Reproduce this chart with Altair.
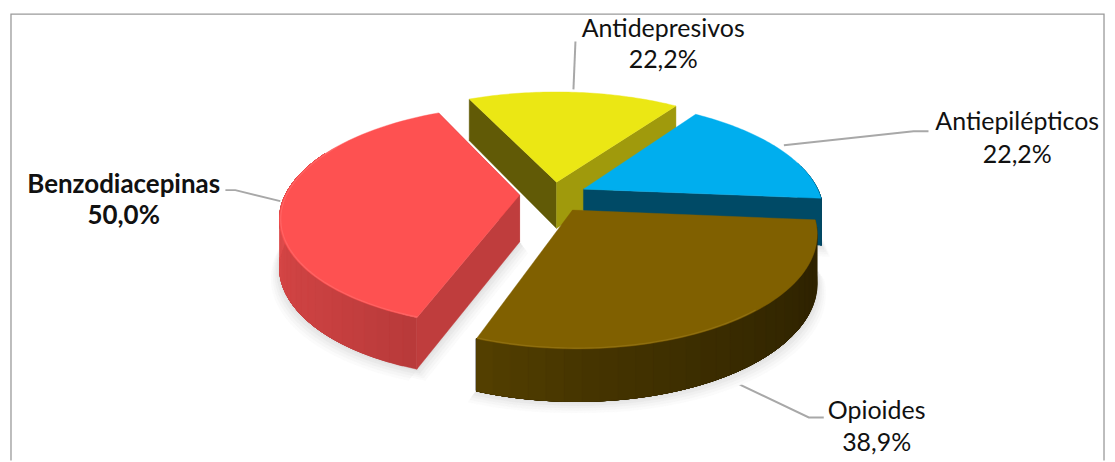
import numpy as np
import pandas as pd
import altair as alt

# values as printed on the chart
categories = ["Antidepresivos", "Antiepilépticos", "Opioides", "Benzodiacepinas"]
values = [22.2, 22.2, 38.9, 50.0]
value_labels = ["22,2%", "22,2%", "38,9%", "50,0%"]

W, H = 1099, 454
CX, CY, A, B, K = 555.0, 195.0, 235.0, 107.0, 0.19
START = -25.0


def proj(u, v, drop=0.0):
    w = 1 / (1 - K * v)
    return CX + A * u * w, CY + B * v * w + drop * (47 + 5 * v)


def unproj(px, py):
    dy = py - CY
    v = dy / (B + K * dy)
    w = 1 / (1 - K * v)
    return (px - CX) / (A * w), v


rows = []
pid = [0]


def poly(points, color):
    pts = list(points) + [points[0]]
    for i, (x, y) in enumerate(pts):
        rows.append({"p": pid[0], "i": i, "x": float(x), "y": float(y), "c": color})
    pid[0] += 1


def mix(c1, c2, t):
    a = [int(c1[i:i + 2], 16) for i in (1, 3, 5)]
    b = [int(c2[i:i + 2], 16) for i in (1, 3, 5)]
    return "#%02x%02x%02x" % tuple(int(round(p + (q - p) * t)) for p, q in zip(a, b))


shares = np.array(values) / sum(values) * 360
edges = START + np.concatenate([[0], np.cumsum(shares)])
apex_px = {"Antidepresivos": (557, 182), "Antiepilépticos": (584, 189),
           "Opioides": (573, 210), "Benzodiacepinas": (520, 195)}
radius = {"Antidepresivos": 1.06, "Antiepilépticos": 1.01, "Opioides": 0.995, "Benzodiacepinas": 1.0}
turn = {"Antidepresivos": 0.0, "Antiepilépticos": 0.0, "Opioides": 0.0, "Benzodiacepinas": -0.5}
span = {c: (edges[i] + turn[c], edges[i + 1] + turn[c]) for i, c in enumerate(categories)}


def arc(cat, a0=None, a1=None, n=60, r_scale=1.0):
    t0, t1 = span[cat]
    t0 = t0 if a0 is None else a0
    t1 = t1 if a1 is None else a1
    th = np.radians(np.linspace(t0, t1, n))
    u0, v0 = unproj(*apex_px[cat])
    r = radius[cat] * r_scale
    return u0 + r * np.sin(th), v0 - r * np.cos(th), (u0, v0)


def top_poly(cat, drop=0.0, dx=0.0, dy=0.0):
    us, vs, (u0, v0) = arc(cat)
    pts = [proj(u0, v0, drop)] + [proj(u, v, drop) for u, v in zip(us, vs)]
    return [(x + dx, y + dy) for x, y in pts]


def face(cat, angle):
    us, vs, (u0, v0) = arc(cat, angle, angle, 1)
    return [proj(u0, v0), proj(us[0], vs[0]), proj(us[0], vs[0], 1), proj(u0, v0, 1)]


def wall(cat, a0, a1, stops, n=30):
    # painted from a0 to a1, each band reaching under the next so no seams show
    for j in range(n):
        us, vs, _ = arc(cat, a0 + (a1 - a0) * j / n, a1, 24)
        f = (j + 0.5) / n * (len(stops) - 1)
        k = min(int(f), len(stops) - 2)
        col = mix(stops[k], stops[k + 1], f - k)
        upper = [proj(u, v) for u, v in zip(us, vs)]
        lower = [proj(u, v, 1) for u, v in zip(us, vs)]
        poly(upper + lower[::-1], col)


# soft shadows, lightest and widest first
for cat in ["Benzodiacepinas", "Opioides", "Antiepilépticos"]:
    for s, col in zip([14, 11, 8, 5, 2], ["#fbfbfb", "#f6f6f6", "#f0f0f0", "#e9e9e9", "#e2e2e2"]):
        for ox in (-s * 0.6, s * 0.6):
            poly(top_poly(cat, drop=1.0, dx=ox, dy=s * 0.8), col)

# Antidepresivos
cat = "Antidepresivos"
t0, t1 = span[cat]
poly(face(cat, t0), "#615a06")
poly(face(cat, t1), "#a09a0c")
poly(top_poly(cat), "#ebe714")

# Antiepilépticos
cat = "Antiepilépticos"
t0, t1 = span[cat]
wall(cat, t0 + 40, t1, ["#00587a", "#003f58"], n=10)
poly(face(cat, t1), "#004a66")
poly(top_poly(cat), "#00aeee")

# Benzodiacepinas
cat = "Benzodiacepinas"
t0, t1 = span[cat]
poly(face(cat, t1), "#bf3d3d")
wall(cat, t0, t1 - 40, ["#b83a3a", "#c84040", "#d24444", "#e04c4c", "#ea4e4e"])
poly(face(cat, t0), "#bf3d3d")
poly(top_poly(cat), "#fe5151")

# Opioides
cat = "Opioides"
t0, t1 = span[cat]
wall(cat, t0, t1, ["#332700", "#2f2300", "#352800", "#3d2e00", "#463500", "#544000"])
poly(top_poly(cat), "#806000")

df = pd.DataFrame(rows)

x_scale = alt.Scale(domain=[8, 8 + W], nice=False, zero=False)
y_scale = alt.Scale(domain=[8, 8 + H], nice=False, zero=False, reverse=True)

pie = alt.Chart(df).mark_line(strokeWidth=0.4, strokeJoin="round").encode(
    x=alt.X("x:Q", scale=x_scale, axis=None),
    y=alt.Y("y:Q", scale=y_scale, axis=None),
    detail="p:N",
    order="i:Q",
    fill=alt.Fill("c:N", scale=None),
    stroke=alt.Stroke("c:N", scale=None),
)

# rims
rim_rows = []
for name, col, a, b in [("Benzodiacepinas", "#ff7070", span["Benzodiacepinas"][0], span["Benzodiacepinas"][1] - 35),
                        ("Opioides", "#9a7a1a", span["Opioides"][0] + 45, span["Opioides"][1])]:
    us, vs, _ = arc(name, a, b, 60, 0.995)
    for i, (u, v) in enumerate(zip(us, vs)):
        x, y = proj(u, v)
        rim_rows.append({"n": name, "i": i, "x": float(x), "y": float(y), "c": col})
rim = alt.Chart(pd.DataFrame(rim_rows)).mark_line(strokeWidth=1.2, opacity=0.6).encode(
    x=alt.X("x:Q", scale=x_scale, axis=None),
    y=alt.Y("y:Q", scale=y_scale, axis=None),
    detail="n:N",
    order="i:Q",
    stroke=alt.Stroke("c:N", scale=None),
)

# leader lines
leaders = {
    "Benzodiacepinas": [(225, 190), (235, 190), (280, 201)],
    "Antidepresivos": [(576, 41), (574, 89)],
    "Antiepilépticos": [(930, 131), (915, 131), (785, 145)],
    "Opioides": [(724, 377), (810, 418), (825, 418)],
}
lead_df = pd.DataFrame([
    {"n": n, "i": i, "x": p[0], "y": p[1]} for n, pts in leaders.items() for i, p in enumerate(pts)
])
lead = alt.Chart(lead_df).mark_line(strokeWidth=2, color="#a8a8a8").encode(
    x=alt.X("x:Q", scale=x_scale, axis=None),
    y=alt.Y("y:Q", scale=y_scale, axis=None),
    detail="n:N",
    order="i:Q",
)

# frame
frame_df = pd.DataFrame([
    {"i": 0, "x": 10, "y": 461}, {"i": 1, "x": 10, "y": 13.5},
    {"i": 2, "x": 1106, "y": 13.5}, {"i": 3, "x": 1106, "y": 461},
])
frame = alt.Chart(frame_df).mark_line(strokeWidth=1.3, color="#9a9a9a").encode(
    x=alt.X("x:Q", scale=x_scale, axis=None),
    y=alt.Y("y:Q", scale=y_scale, axis=None),
    order="i:Q",
)

# labels
label_pos = {
    "Antidepresivos": (664, 28, 60),
    "Antiepilépticos": (1019, 122, 155),
    "Opioides": (878, 411, 444),
    "Benzodiacepinas": (123, 185, 216),
}
text_rows = []
for c, v in zip(categories, value_labels):
    lx, y1, y2 = label_pos[c]
    b = "bold" if c == "Benzodiacepinas" else "normal"
    text_rows.append({"t": c, "x": lx, "y": y1, "w": b})
    text_rows.append({"t": v, "x": lx, "y": y2, "w": b})
tdf = pd.DataFrame(text_rows)


def text_layer(weight, size):
    return alt.Chart(tdf[tdf.w == weight]).mark_text(
        font="Lato", fontSize=size, fontWeight=weight, color="#111111", align="center", baseline="middle"
    ).encode(
        x=alt.X("x:Q", scale=x_scale, axis=None),
        y=alt.Y("y:Q", scale=y_scale, axis=None),
        text="t:N",
    )


chart = alt.layer(frame, lead, pie, rim, text_layer("normal", 25), text_layer("bold", 26)).properties(
    width=W, height=H, padding=0, background="white"
).configure_view(stroke=None)

chart.save("out.html", embed_options={"renderer": "svg", "actions": False})
